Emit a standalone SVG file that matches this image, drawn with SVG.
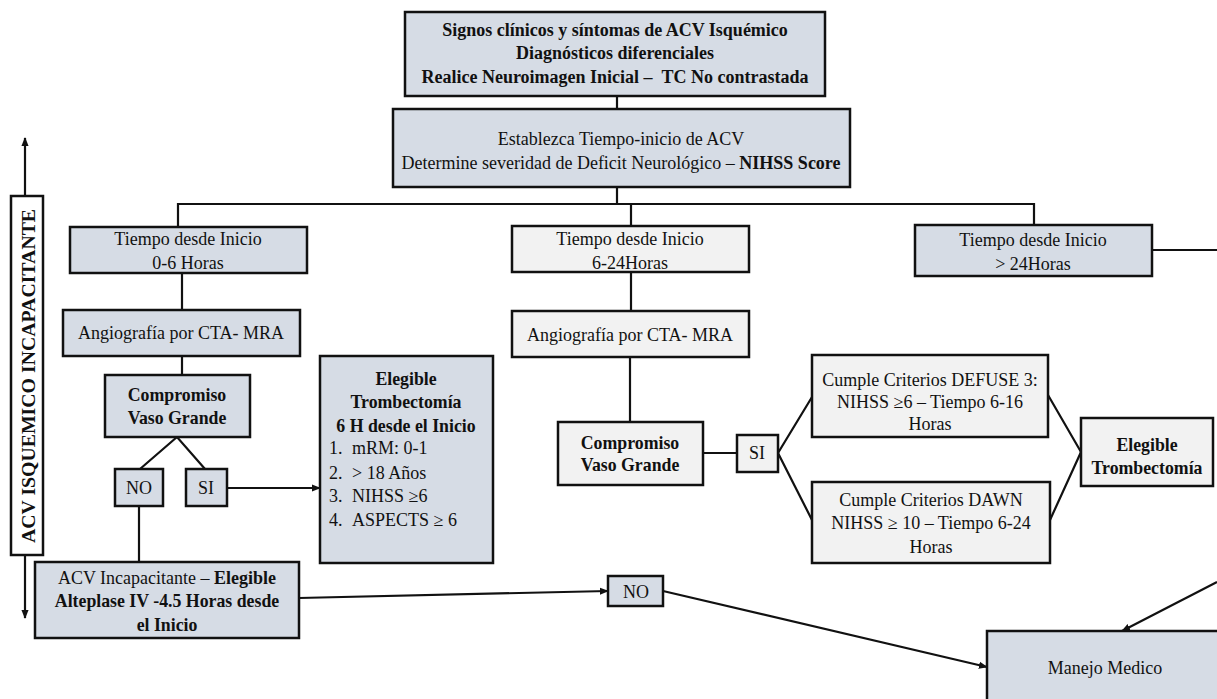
<svg xmlns="http://www.w3.org/2000/svg" width="1217" height="699" viewBox="0 0 1217 699">
<style>
  .bx{fill:#D6DCE5;stroke:#111;stroke-width:2.5}
  .gy{fill:#F2F2F2;stroke:#111;stroke-width:2.5}
  .wh{fill:#fff;stroke:#111;stroke-width:2.5}
  .t{font-family:"Liberation Serif","Times New Roman",serif;font-size:18px;fill:#111;text-anchor:middle}
  .tl{font-family:"Liberation Serif","Times New Roman",serif;font-size:18px;fill:#111}
  .b{font-family:"Liberation Serif","Times New Roman",serif;font-size:17.8px;font-weight:bold;fill:#111;text-anchor:middle}
  .big{font-family:"Liberation Serif","Times New Roman",serif;font-size:18px;fill:#111;text-anchor:middle}
  .bigb{font-family:"Liberation Serif","Times New Roman",serif;font-size:18px;font-weight:bold;fill:#111;text-anchor:middle}
  .bo{font-weight:bold}
  .c{fill:none;stroke:#111;stroke-width:2.2}
  .a{fill:none;stroke:#111;stroke-width:2.2;marker-end:url(#ah)}
</style>
<defs>
  <marker id="ah" viewBox="0 0 10 10" refX="9" refY="5" markerWidth="9" markerHeight="9" markerUnits="userSpaceOnUse" orient="auto">
    <path d="M0,1 L10,5 L0,9 z" fill="#111"/>
  </marker>
</defs>
<g id="connectors">
  <path class="c" d="M617,96 V109"/>
  <path class="c" d="M617,187 V204"/>
  <path class="c" d="M178,227 V204 H1034 V225"/>
  <path class="c" d="M631,204 V226"/>
  <path class="c" d="M182,273 V310"/>
  <path class="c" d="M182,356 V375"/>
  <path class="c" d="M140,469 L177,437 L205,469"/>
  <path class="a" d="M227,488 H320"/>
  <path class="c" d="M139,506 V562"/>
  <path class="a" d="M299,598 L608,591"/>
  <path class="a" d="M663,591 L987,667"/>
  <path class="c" d="M631,272 V311"/>
  <path class="c" d="M630,357 V422"/>
  <path class="c" d="M703,453 H737"/>
  <path class="c" d="M812,397 L778,453 L812,520"/>
  <path class="c" d="M1048,395 L1081,452 L1050,520"/>
  <path class="c" d="M1152,250 H1217"/>
  <path class="a" d="M1217,582 L1122,631"/>
  <path class="a" d="M25,196 V138"/>
  <path class="a" d="M25,555 V618"/>
</g>
<g id="n-top">
  <rect class="bx" x="405" y="12" width="420" height="84"/>
  <text class="bigb" x="615" y="36">Signos clínicos y síntomas de ACV Isquémico</text>
  <text class="bigb" x="615" y="59">Diagnósticos diferenciales</text>
  <text class="bigb" x="615" y="83">Realice Neuroimagen Inicial – &#160;TC No contrastada</text>
</g>
<g id="n-tiempo">
  <rect class="bx" x="393" y="109" width="457" height="78"/>
  <text class="big" x="621" y="145">Establezca Tiempo-inicio de ACV</text>
  <text class="big" x="621" y="169">Determine severidad de Deficit Neurológico – <tspan class="bo">NIHSS Score</tspan></text>
</g>
<g id="n-side">
  <rect class="wh" x="11" y="196" width="32" height="359"/>
  <text class="bigb" transform="translate(34.5,376) rotate(-90)" style="font-size:19.8px">ACV ISQUEMICO INCAPACITANTE</text>
</g>
<g id="n-06">
  <rect class="bx" x="70" y="227" width="237" height="46"/>
  <text class="t" x="188" y="245">Tiempo desde Inicio</text>
  <text class="t" x="188" y="269">0-6 Horas</text>
</g>
<g id="n-angio1">
  <rect class="bx" x="63" y="310" width="237" height="46"/>
  <text class="t" x="181" y="339">Angiografía por CTA- MRA</text>
</g>
<g id="n-comp1">
  <rect class="bx" x="105" y="375" width="145" height="62"/>
  <text class="b" x="177" y="401">Compromiso</text>
  <text class="b" x="177" y="424">Vaso Grande</text>
</g>
<g id="n-no1">
  <rect class="bx" x="115" y="469" width="48" height="37"/>
  <text class="t" x="139" y="494">NO</text>
</g>
<g id="n-si1">
  <rect class="bx" x="186" y="469" width="41" height="37"/>
  <text class="t" x="206" y="494">SI</text>
</g>
<g id="n-eleg1">
  <rect class="bx" x="320" y="356" width="173" height="207"/>
  <text class="b" x="406" y="385">Elegible</text>
  <text class="b" x="406" y="408">Trombectomía</text>
  <text class="b" x="406" y="432">6 H desde el Inicio</text>
  <text class="tl" x="329" y="454">1.</text><text class="tl" x="352" y="454">mRM: 0-1</text>
  <text class="tl" x="329" y="479">2.</text><text class="tl" x="352" y="479">&gt; 18 Años</text>
  <text class="tl" x="329" y="502">3.</text><text class="tl" x="352" y="502">NIHSS ≥6</text>
  <text class="tl" x="329" y="526">4.</text><text class="tl" x="352" y="526">ASPECTS ≥ 6</text>
</g>
<g id="n-acvinc">
  <rect class="bx" x="35" y="562" width="264" height="76"/>
  <text class="t" x="167" y="584">ACV Incapacitante – <tspan class="bo">Elegible</tspan></text>
  <text class="b" x="167" y="607">Alteplase IV -4.5 Horas desde</text>
  <text class="b" x="167" y="631">el Inicio</text>
</g>
<g id="n-624">
  <rect class="gy" x="512" y="226" width="237" height="46"/>
  <text class="t" x="630" y="245">Tiempo desde Inicio</text>
  <text class="t" x="630" y="269">6-24Horas</text>
</g>
<g id="n-angio2">
  <rect class="gy" x="512" y="311" width="237" height="46"/>
  <text class="t" x="630" y="341">Angiografía por CTA- MRA</text>
</g>
<g id="n-comp2">
  <rect class="gy" x="558" y="422" width="145" height="63"/>
  <text class="b" x="630" y="449">Compromiso</text>
  <text class="b" x="630" y="471">Vaso Grande</text>
</g>
<g id="n-si2">
  <rect class="gy" x="737" y="435" width="41" height="37"/>
  <text class="t" x="757" y="459">SI</text>
</g>
<g id="n-defuse">
  <rect class="gy" x="812" y="355" width="236" height="82"/>
  <text class="t" x="930" y="386">Cumple Criterios DEFUSE 3:</text>
  <text class="t" x="930" y="408">NIHSS ≥6 – Tiempo 6-16</text>
  <text class="t" x="930" y="430">Horas</text>
</g>
<g id="n-dawn">
  <rect class="gy" x="812" y="482" width="238" height="81"/>
  <text class="t" x="931" y="506">Cumple Criterios DAWN</text>
  <text class="t" x="931" y="529">NIHSS ≥ 10 – Tiempo 6-24</text>
  <text class="t" x="931" y="553">Horas</text>
</g>
<g id="n-eleg2">
  <rect class="gy" x="1081" y="418" width="132" height="68"/>
  <text class="b" x="1147" y="451">Elegible</text>
  <text class="b" x="1147" y="474">Trombectomía</text>
</g>
<g id="n-24">
  <rect class="bx" x="915" y="225" width="237" height="51"/>
  <text class="t" x="1033" y="246">Tiempo desde Inicio</text>
  <text class="t" x="1033" y="270">&gt; 24Horas</text>
</g>
<g id="n-no2">
  <rect class="bx" x="608" y="576" width="55" height="30"/>
  <text class="t" x="636" y="598">NO</text>
</g>
<g id="n-manejo">
  <rect class="bx" x="987" y="631" width="245" height="80"/>
  <text class="big" x="1105" y="674">Manejo Medico</text>
</g>
</svg>
